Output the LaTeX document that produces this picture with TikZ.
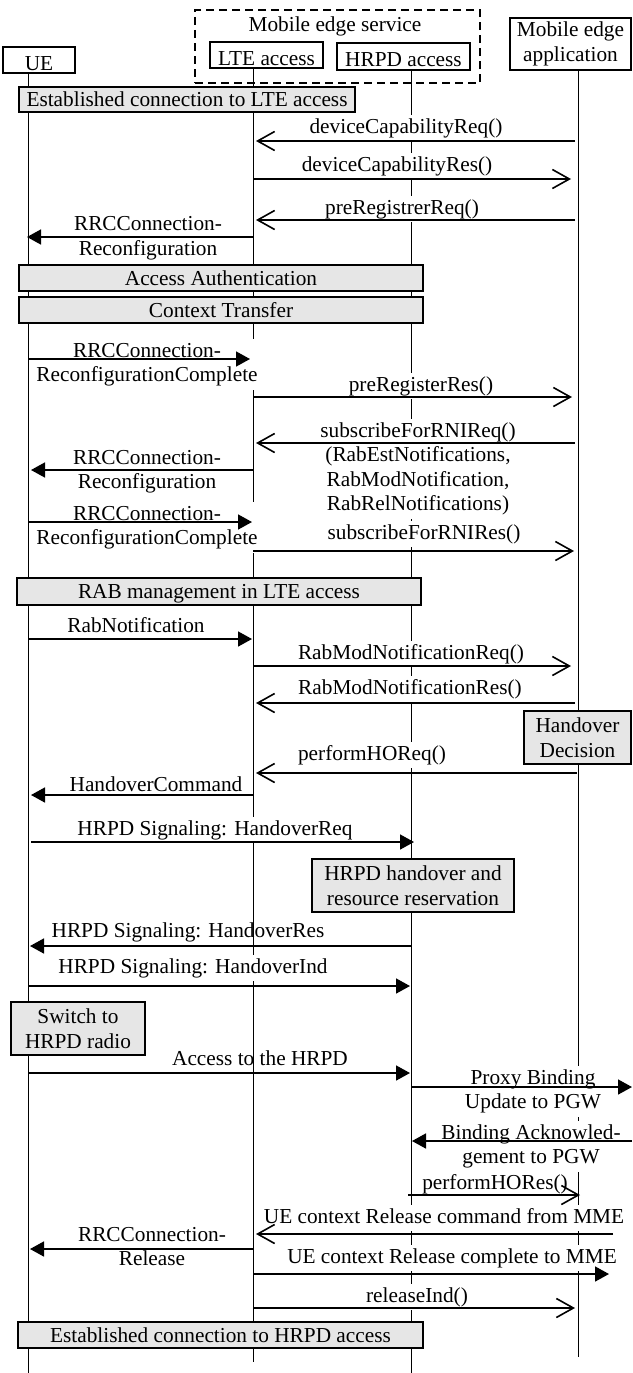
\documentclass[tikz,border=0pt]{standalone}
\usepackage{fontspec}
\setmainfont{Liberation Serif}
\usetikzlibrary{arrows.meta}
\definecolor{boxgray}{RGB}{230,230,230}
% one or more centred lines, baseline of the first line is the node baseline
\newcommand\lbltxt[1]{\begin{tabular}[t]{@{}c@{}}#1\end{tabular}}
% message: style, name, from x, to x, y
\newcommand\msgline[5]{%
  \coordinate (#2a) at (#3,#5);
  \coordinate (#2b) at (#4,#5);
  \draw[#1] (#2a) -- (#2b);}
% label: style, name, centre x, baseline y, text
\newcommand\msglabel[5]{\node[#1] (#2) at (#3,#4) {\lbltxt{#5}};}

\begin{document}
\begin{tikzpicture}[x=1pt,y=-1pt,
  txt/.style={font=\fontsize{21.3}{24.5}\selectfont},
  hdr/.style={txt, draw, line width=1.4pt, inner sep=0pt, text height=20pt, text depth=0pt},
  hdrm/.style={txt, draw, line width=1.4pt, inner sep=0pt, align=center},
  gbox/.style={txt, draw, fill=boxgray, line width=1.4pt, inner sep=0pt, text height=14pt, text depth=0pt},
  gboxm/.style={txt, draw, fill=boxgray, line width=1.4pt, inner sep=0pt, align=center},
  lifeline/.style={line width=1pt},
  lbl/.style={txt, anchor=base, inner sep=1pt, fill=white},
  lblclear/.style={txt, anchor=base, inner sep=1pt},
  msgopen/.style={line width=1.6pt, -{Straight Barb[length=17pt,width=19pt]}},
  msgfill/.style={line width=1.6pt, -{Triangle[length=14pt,width=15pt]}},
]
\useasboundingbox (0,0) rectangle (632,1373);

% ---- participants ----
\node[draw, line width=1.3pt, dash pattern=on 8pt off 5pt, inner sep=0pt,
      minimum width=285pt, minimum height=73pt] (mes) at (337.5,46.5) {};
\node[txt, anchor=base, inner sep=0pt] (mestitle) at (335,31.5) {Mobile edge service};
\node[hdr, minimum width=72pt, minimum height=26pt] (ue) at (39,60) {UE};
\node[hdr, minimum width=113pt, minimum height=26pt] (lte) at (266.5,55) {LTE access};
\node[hdr, minimum width=133pt, minimum height=27pt] (hrpd) at (403.5,56.5) {HRPD access};
\node[hdrm, minimum width=121pt, minimum height=52pt] (mea) at (570.5,44) {Mobile edge\\application};

% ---- lifelines ----
\coordinate (ueT) at (28,73);    \coordinate (ueB) at (28,1373);
\coordinate (lteT) at (253,68);  \coordinate (lteB) at (253,1362);
\coordinate (hrT) at (411,70);   \coordinate (hrB) at (411,1373);
\coordinate (meT) at (578,70);   \coordinate (meB) at (578,1357);
\draw[lifeline] (ueT) -- (ueB);
\draw[lifeline] (lteT) -- (lteB);
\draw[lifeline] (hrT) -- (hrB);
\draw[lifeline] (meT) -- (meB);

% ---- activity boxes ----
\node[gbox, minimum width=336pt, minimum height=25pt] (estlte) at (187,99.5) {Established connection to LTE access};
\node[gbox, minimum width=404pt, minimum height=26pt] (auth) at (221,278) {Access Authentication};
\node[gbox, minimum width=404pt, minimum height=26pt] (ctx) at (221,310) {Context Transfer};
\node[gbox, minimum width=404pt, minimum height=27pt] (rab) at (219,591.5) {RAB management in LTE access};
\node[gboxm, minimum width=107pt, minimum height=53pt] (hodec) at (577.5,737.5) {Handover\\Decision};
\node[gboxm, minimum width=202pt, minimum height=53pt] (hrpdho) at (413,885.5) {HRPD handover and\\resource reservation};
\node[gboxm, minimum width=134pt, minimum height=53pt] (switch) at (78,1028.5) {Switch to\\HRPD radio};
\node[gbox, minimum width=405pt, minimum height=26pt] (esthrpd) at (220.5,1335) {Established connection to HRPD access};

% ---- message labels ----
\msglabel{lbl}{l1}{406}{133}{deviceCapabilityReq()}
\msglabel{lbl}{l2}{397}{171}{deviceCapabilityRes()}
\msglabel{lbl}{l3}{402}{214}{preRegistrerReq()}
\msglabel{lbl}{l4}{148}{230.5}{RRCConnection-\\Reconfiguration}
\msglabel{lbl}{l5}{147}{357}{RRCConnection-\\ReconfigurationComplete}
\msglabel{lbl}{l6}{421}{391}{preRegisterRes()}
\msglabel{lbl}{l7}{418}{437}{subscribeForRNIReq()\\(RabEstNotifications,\\RabModNotification,\\RabRelNotifications)}
\msglabel{lbl}{l8}{147}{464}{RRCConnection-\\Reconfiguration}
\msglabel{lbl}{l9}{147}{520}{RRCConnection-\\ReconfigurationComplete}
\msglabel{lbl}{l10}{424}{539}{subscribeForRNIRes()}
\msglabel{lbl}{l11}{136}{632}{RabNotification}
\msglabel{lbl}{l12}{411}{659}{RabModNotificationReq()}
\msglabel{lbl}{l13}{410}{694}{RabModNotificationRes()}
\msglabel{lbl}{l14}{372}{760}{performHOReq()}
\msglabel{lbl}{l15}{156}{791}{HandoverCommand}
\msglabel{lbl}{l16}{215}{835}{HRPD Signaling: HandoverReq}
\msglabel{lblclear}{l17}{188}{937}{HRPD Signaling: HandoverRes}
\msglabel{lbl}{l18}{193}{973}{HRPD Signaling: HandoverInd}
\msglabel{lblclear}{l19}{260}{1065}{Access to the HRPD}
\msglabel{lbl}{l20}{533}{1084}{Proxy Binding\\Update to PGW}
\msglabel{lbl}{l21}{531}{1139}{Binding Acknowled-\\gement to PGW}
\msglabel{lbl}{l22}{495}{1189}{performHORes()}
\msglabel{lbl}{l23}{444}{1223}{UE context Release command from MME}
\msglabel{lbl}{l24}{152}{1241}{RRCConnection-\\Release}
\msglabel{lbl}{l25}{452}{1263}{UE context Release complete to MME}
\msglabel{lbl}{l26}{417}{1302}{releaseInd()}

% ---- messages ----
\msgline{msgopen}{m1}{575}{256}{141}
\msgline{msgopen}{m2}{253}{571}{179}
\msgline{msgopen}{m3}{575}{256}{220}
\msgline{msgfill}{m4}{253}{27}{237}
\msgline{msgfill}{m5}{28}{250}{359}
\msgline{msgopen}{m6}{253}{572}{397}
\msgline{msgopen}{m7}{575}{256}{443}
\msgline{msgfill}{m8}{253}{31}{470}
\msgline{msgfill}{m9}{28}{252}{522}
\msgline{msgopen}{m10}{253}{574}{551}
\msgline{msgfill}{m11}{28}{252}{639}
\msgline{msgopen}{m12}{253}{571}{666}
\msgline{msgopen}{m13}{575}{256}{703}
\msgline{msgopen}{m14}{577}{256}{773}
\msgline{msgfill}{m15}{253}{31}{795}
\msgline{msgfill}{m16}{31}{414}{842}
\msgline{msgfill}{m17}{411}{30}{946}
\msgline{msgfill}{m18}{28}{410}{986}
\msgline{msgfill}{m19}{28}{410}{1073}
\msgline{msgfill}{m20}{411}{632}{1087}
\msgline{msgfill}{m21}{632}{412}{1141}
\msgline{msgopen}{m22}{408}{580}{1195}
\msgline{msgopen}{m23}{613}{256}{1234}
\msgline{msgfill}{m24}{253}{30}{1249}
\msgline{msgfill}{m25}{253}{609}{1274}
\msgline{msgopen}{m26}{253}{575}{1308}
\end{tikzpicture}
\end{document}
